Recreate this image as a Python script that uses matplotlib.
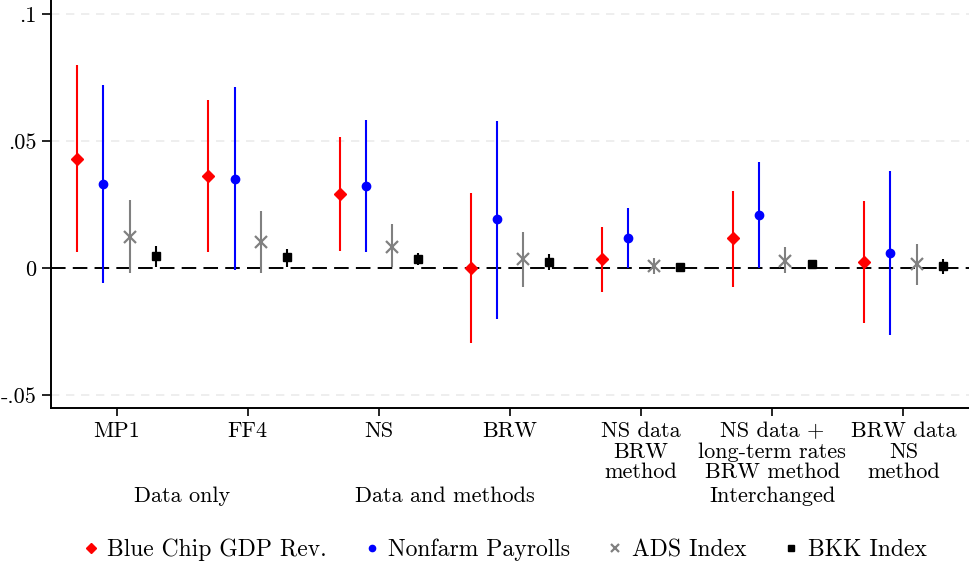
import numpy as np
import matplotlib
matplotlib.use("Agg")
import matplotlib.pyplot as plt
from matplotlib.lines import Line2D

plt.rcParams["font.family"] = "serif"
plt.rcParams["font.serif"] = ["cmr10", "DejaVu Serif"]
plt.rcParams["axes.unicode_minus"] = False
plt.rcParams["axes.formatter.use_mathtext"] = True

# =========================
# data
# =========================
categories = ["MP1", "FF4", "NS", "BRW",
              "NS data\nBRW\nmethod",
              "NS data +\nlong-term rates\nBRW method",
              "BRW data\nNS\nmethod"]

groups = ["Data only", "Data and methods", "Interchanged"]
group_pos = [1.5, 3.5, 6.0]

series_names = ["Blue Chip GDP Rev.", "Nonfarm Payrolls", "ADS Index", "BKK Index"]

gdp_est = [0.0430, 0.0362, 0.0291, -0.0001, 0.0034, 0.0117, 0.0024]
gdp_lo = [0.0063, 0.0063, 0.0066, -0.0297, -0.0096, -0.0074, -0.0215]
gdp_hi = [0.0800, 0.0660, 0.0516, 0.0294, 0.0161, 0.0304, 0.0264]

nfp_est = [0.0330, 0.0350, 0.0323, 0.0192, 0.0119, 0.0207, 0.0059]
nfp_lo = [-0.0060, -0.0008, 0.0063, -0.0200, 0.0000, 0.0000, -0.0263]
nfp_hi = [0.0720, 0.0711, 0.0581, 0.0580, 0.0237, 0.0419, 0.0380]

ads_est = [0.0123, 0.0102, 0.0084, 0.0034, 0.0008, 0.0029, 0.0015]
ads_lo = [-0.0021, -0.0018, 0.0005, -0.0074, -0.0024, -0.0018, -0.0066]
ads_hi = [0.0268, 0.0223, 0.0173, 0.0142, 0.0038, 0.0081, 0.0094]

bkk_est = [0.0047, 0.0042, 0.0034, 0.0025, 0.0005, 0.0017, 0.0008]
bkk_lo = [0.0005, 0.0005, 0.0012, -0.0008, -0.0005, 0.0009, -0.0024]
bkk_hi = [0.0087, 0.0074, 0.0058, 0.0055, 0.0015, 0.0025, 0.0034]

yticks = [-0.05, 0, 0.05, 0.1]
ytick_labels = ["-.05", "0", ".05", ".1"]

# =========================
# plot
# =========================
styles = [
    ("#ff0000", "D", 6.5, dict()),
    ("#0000ff", "o", 6.0, dict()),
    ("#808080", "x", 8, dict(markeredgewidth=1.6)),
    ("#000000", "s", 6, dict()),
]
all_series = [
    (gdp_est, gdp_lo, gdp_hi),
    (nfp_est, nfp_lo, nfp_hi),
    (ads_est, ads_lo, ads_hi),
    (bkk_est, bkk_lo, bkk_hi),
]
offsets = [-0.3, -0.1, 0.1, 0.3]

fig = plt.figure(figsize=(9.69, 5.71), dpi=100)
ax = fig.add_axes([51 / 969, 1 - 408 / 571, 1 - 51 / 969, 408 / 571])

x = np.arange(1, len(categories) + 1)

for yv in [-0.05, 0.05, 0.1]:
    ax.axhline(yv, color="#ebebeb", lw=1.2, ls=(0, (5, 4)), zorder=0)
ax.axhline(0, color="black", lw=1.4, ls=(0, (7.5, 3.7)), zorder=1)

handles = []
for (est, lo, hi), off, (col, mk, ms, extra) in zip(all_series, offsets, styles):
    xs = x + off
    ax.vlines(xs, lo, hi, color=col, lw=1.5, zorder=2)
    ax.plot(xs, est, ls="none", marker=mk, ms=ms, color=col, zorder=3, **extra)
    handles.append(Line2D([], [], ls="none", marker=mk, color=col,
                          ms=ms * 0.75, **extra))

ax.set_xlim(0.5, 7.5)
ax.set_ylim(-0.0551, 0.1055)
ax.set_xticks(x)
ax.set_xticklabels(categories, fontsize=16, linespacing=1.05)
ax.set_yticks(yticks)
ax.set_yticklabels(ytick_labels, fontsize=16)

ax.spines["top"].set_visible(False)
ax.spines["right"].set_visible(False)
ax.spines["left"].set_linewidth(1.4)
ax.spines["bottom"].set_linewidth(1.4)
ax.tick_params(axis="x", length=6, width=1.2, pad=4)
ax.tick_params(axis="y", length=6.5, width=1.2, pad=4)

for g, gp in zip(groups, group_pos):
    ax.text(gp, -0.216, g, transform=ax.get_xaxis_transform(),
            ha="center", va="center", fontsize=16)

fig.legend(handles, series_names, loc="center", ncol=4,
           bbox_to_anchor=(0.5175, 1 - 550 / 571), frameon=False,
           fontsize=17, handletextpad=0.1, columnspacing=1.3,
           handlelength=1.2)

fig.savefig("out.png", dpi=100)
